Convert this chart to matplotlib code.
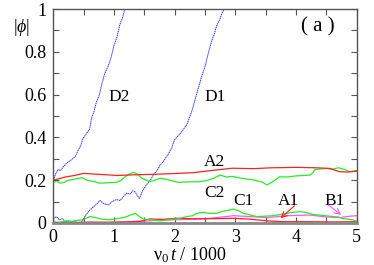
import matplotlib
matplotlib.use('Agg')
import matplotlib.pyplot as plt

plt.rcParams['font.family'] = ['Liberation Serif', 'DejaVu Serif']
plt.rcParams['mathtext.fontset'] = 'custom'
plt.rcParams['mathtext.rm'] = 'Liberation Serif'
plt.rcParams['mathtext.it'] = 'Liberation Serif:italic'

# Data (t in units of 1000 / v0)
d2_t = [0, 0.04, 0.08, 0.12, 0.17, 0.22, 0.27, 0.32, 0.36, 0.41, 0.45, 0.49, 0.55, 0.60,
        0.63, 0.67, 0.71, 0.76, 0.80, 0.85, 0.90, 0.95, 1.00, 1.05, 1.10, 1.14, 1.18]
d2_phi = [0.2, 0.23, 0.25, 0.245, 0.265, 0.28, 0.29, 0.30, 0.31, 0.34, 0.36, 0.395, 0.42, 0.44,
          0.49, 0.52, 0.565, 0.6, 0.65, 0.70, 0.73, 0.77, 0.83, 0.87, 0.93, 0.96, 1.0]

d1_t = [0, 0.05, 0.1, 0.15, 0.2, 0.25, 0.3, 0.35, 0.4, 0.47, 0.53, 0.6, 0.66, 0.72, 0.77,
        0.83, 0.91, 0.97, 1.04, 1.1, 1.16, 1.21, 1.26, 1.31, 1.35, 1.39, 1.42, 1.47, 1.54,
        1.6, 1.65, 1.71, 1.76, 1.82, 1.89, 1.95, 2.0, 2.05, 2.1, 2.15, 2.2, 2.28, 2.36, 2.44,
        2.5, 2.56, 2.61, 2.65, 2.69, 2.74, 2.78, 2.82]
d1_phi = [0.02, 0.03, 0.015, 0.02, 0.005, 0.01, 0.005, 0.01, 0.0, 0.005, 0.035, 0.06, 0.075,
          0.09, 0.105, 0.09, 0.085, 0.1, 0.11, 0.105, 0.125, 0.14, 0.135, 0.15, 0.145, 0.125,
          0.115, 0.15, 0.18, 0.2, 0.225, 0.245, 0.27, 0.29, 0.32, 0.35, 0.39, 0.405, 0.42,
          0.44, 0.46, 0.52, 0.6, 0.68, 0.73, 0.8, 0.85, 0.88, 0.92, 0.95, 0.98, 1.0]

a2_t = [0, 0.2, 0.35, 0.5, 0.7, 0.9, 1.05, 1.3, 1.6, 1.8, 2.06, 2.3, 2.6, 2.95, 3.3, 3.6,
        4.0, 4.34, 4.55, 4.72, 4.85, 5.0]
a2_phi = [0.2, 0.215, 0.222, 0.232, 0.228, 0.225, 0.222, 0.225, 0.227, 0.229, 0.232, 0.235,
          0.245, 0.256, 0.254, 0.258, 0.26, 0.258, 0.255, 0.24, 0.238, 0.242]

c2_t = [0, 0.06, 0.11, 0.18, 0.25, 0.35, 0.47, 0.55, 0.65, 0.77, 0.9, 1.04, 1.12, 1.18, 1.25,
        1.32, 1.39, 1.46, 1.53, 1.59, 1.67, 1.76, 1.85, 1.95, 2.06, 2.2, 2.42, 2.55, 2.65,
        2.75, 2.85, 2.95, 3.08, 3.2, 3.32, 3.45, 3.52, 3.6, 3.73, 3.85, 4.0, 4.12, 4.23, 4.28,
        4.31, 4.4, 4.5, 4.6, 4.7, 4.8, 4.89, 5.0]
c2_phi = [0.19, 0.195, 0.186, 0.19, 0.2, 0.205, 0.212, 0.2, 0.195, 0.186, 0.188, 0.19, 0.2,
          0.216, 0.228, 0.237, 0.228, 0.209, 0.2, 0.193, 0.2, 0.209, 0.205, 0.198, 0.19, 0.192,
          0.193, 0.2, 0.21, 0.224, 0.215, 0.218, 0.21, 0.205, 0.2, 0.19, 0.178, 0.19, 0.216,
          0.215, 0.22, 0.222, 0.224, 0.235, 0.25, 0.252, 0.255, 0.252, 0.258, 0.25, 0.24, 0.245]

c1_t = [0, 0.1, 0.2, 0.3, 0.4, 0.49, 0.6, 0.7, 0.8, 0.93, 1.05, 1.15, 1.21, 1.28, 1.35, 1.42,
        1.48, 1.6, 1.76, 1.9, 2.06, 2.2, 2.3, 2.36, 2.47, 2.58, 2.69, 2.8, 2.9, 2.97, 3.05,
        3.13, 3.22, 3.35, 3.5, 3.62, 3.75, 3.9, 4.06, 4.15, 4.28, 4.45, 4.61, 4.7, 4.78, 4.86,
        4.94, 5.0]
c1_phi = [0.005, 0.003, 0.01, 0.008, 0.012, 0.015, 0.03, 0.025, 0.018, 0.015, 0.02, 0.025,
          0.03, 0.038, 0.045, 0.03, 0.019, 0.014, 0.01, 0.015, 0.02, 0.03, 0.034, 0.045, 0.05,
          0.045, 0.045, 0.055, 0.06, 0.065, 0.058, 0.045, 0.04, 0.03, 0.032, 0.034, 0.04,
          0.048, 0.053, 0.05, 0.04, 0.035, 0.03, 0.028, 0.02, 0.018, 0.014, 0.008]

a1_t = [0, 0.3, 0.6, 0.9, 1.2, 1.43, 1.59, 1.8, 2.03, 2.3, 2.6, 2.97, 3.24, 3.52, 3.8, 4.2,
        4.6, 5.0]
a1_phi = [0.003, 0.002, 0.004, 0.003, 0.005, 0.008, 0.019, 0.017, 0.022, 0.02, 0.02, 0.022,
          0.018, 0.01, 0.006, 0.006, 0.005, 0.006]

b1_t = [0, 0.4, 0.8, 1.2, 1.5, 1.76, 2.0, 2.47, 2.75, 2.97, 3.25, 3.52, 3.85, 4.05, 4.23,
        4.5, 4.72, 4.9, 5.0]
b1_phi = [0.0, 0.002, 0.003, 0.005, 0.008, 0.014, 0.015, 0.019, 0.027, 0.034, 0.03, 0.025,
          0.034, 0.036, 0.037, 0.028, 0.025, 0.032, 0.034]

x_ticks = [0, 1, 2, 3, 4, 5]
x_labels = ['0', '1', '2', '3', '4', '5']
y_ticks = [0, 0.2, 0.4, 0.6, 0.8, 1.0]
y_labels = ['0', '0.2', '0.4', '0.6', '0.8', '1']

# Figure
fig = plt.figure(figsize=(3.74, 2.65), dpi=100)
ax = fig.add_axes([0.1425, 0.1585, 0.8112, 0.8075])

ax.plot(d2_t, d2_phi, color='#3333ff', lw=0.7, ls=(0, (1.5, 0.6)))
ax.plot(d1_t, d1_phi, color='#3333ff', lw=0.7, ls=(0, (1.5, 0.6)))
ax.plot(b1_t, b1_phi, color='#ff55ff', lw=0.9)
ax.plot(a1_t, a1_phi, color='#ff2020', lw=0.9)
ax.plot(c1_t, c1_phi, color='#22ee22', lw=0.9)
ax.plot(c2_t, c2_phi, color='#22ee22', lw=0.9)
ax.plot(a2_t, a2_phi, color='#ff2020', lw=0.9)

ax.set_xlim(0, 5)
ax.set_ylim(0, 1)
ax.set_xticks(x_ticks)
ax.set_xticklabels(x_labels)
ax.set_xticks([0.5, 1.5, 2.5, 3.5, 4.5], minor=True)
ax.set_yticks(y_ticks)
ax.set_yticklabels(y_labels)
ax.set_yticks([0.1, 0.3, 0.5, 0.7, 0.9], minor=True)
ax.tick_params(which='both', direction='in', top=True, right=True,
               labelsize=13, color='#555555', width=0.8, length=4)
ax.tick_params(which='major', pad=5)
ax.tick_params(axis='x', which='major', pad=4)
for s in ax.spines.values():
    s.set_color('#555555')
    s.set_linewidth(1.0)
ax.spines['bottom'].set_linewidth(2.0)
ax.spines['bottom'].set_color('#888888')

# Labels
fig.text(22 / 374, 1 - 27 / 265, r'$|\phi|$', fontsize=13, ha='center', va='center')
fig.text(190 / 374, 1 - 255 / 265, r'$\mathrm{\nu}_0\,t$ / 1000', fontsize=13,
         ha='center', va='center')

ax.text(4.36, 0.915, '( a )', fontsize=15, ha='center', va='center')
ax.text(1.08, 0.59, 'D2', fontsize=12.5, ha='center', va='center')
ax.text(2.66, 0.59, 'D1', fontsize=12.5, ha='center', va='center')
ax.text(2.66, 0.286, 'A2', fontsize=12.5, ha='center', va='center')
ax.text(2.66, 0.142, 'C2', fontsize=12.5, ha='center', va='center')
ax.text(3.14, 0.103, 'C1', fontsize=12.5, ha='center', va='center')
ax.text(3.87, 0.103, 'A1', fontsize=12.5, ha='center', va='center')
ax.text(4.64, 0.103, 'B1', fontsize=12.5, ha='center', va='center')

ax.annotate('', xy=(3.71, 0.014), xytext=(4.01, 0.089),
            arrowprops=dict(arrowstyle='->', color='#ff2020', lw=0.8))
ax.annotate('', xy=(4.78, 0.03), xytext=(4.5, 0.092),
            arrowprops=dict(arrowstyle='->', color='#ff55ff', lw=0.8))

fig.savefig('out.png', dpi=100)
